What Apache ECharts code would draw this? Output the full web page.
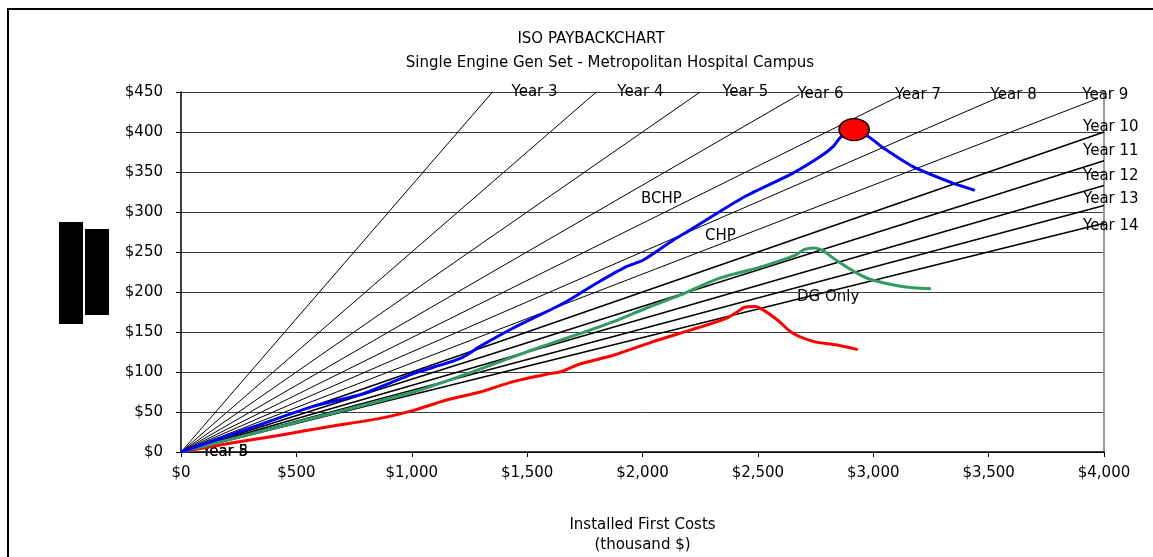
<!DOCTYPE html>
<html>
<head>
<meta charset="utf-8">
<title>ISO Payback Chart</title>
<script src="https://cdn.jsdelivr.net/npm/echarts@6/dist/echarts.min.js"></script>
<style>
  html, body { margin: 0; padding: 0; background: #fff; }
  #chart { width: 1153px; height: 557px; }
</style>
</head>
<body>
<div id="chart"></div>
<script>
// payback-year reference lines, each drawn from the origin to its end point
var yearNames = ['Year 3', 'Year 4', 'Year 5', 'Year 6', 'Year 7', 'Year 8', 'Year 9',
                 'Year 10', 'Year 11', 'Year 12', 'Year 13', 'Year 14'];
var yearLineEnds = [
  [1350, 450], [1800, 450], [2250, 450], [2680, 447], [3120, 446], [3565, 446], [3975, 442],
  [4000, 400], [4000, 364], [4000, 333], [4000, 308], [4000, 286]
];
// years whose label also sits at the origin
var originLabelYears = ['Year 5', 'Year 8'];

// installed first cost (thousand $) vs annual savings
var bchp = [
  [0, 0], [300, 30], [573, 57], [790, 73], [1007, 98], [1151, 111], [1224, 119], [1296, 132],
  [1440, 155], [1657, 186], [1801, 211], [1932, 232], [2004, 240], [2134, 265], [2204, 277],
  [2442, 319], [2648, 348], [2769, 369], [2827, 382], [2860, 394], [2917, 403], [2980, 394],
  [3044, 380], [3170, 357], [3345, 336], [3440, 327]
];
var bchpPeak = [[2917, 403]];
var chp = [
  [0, 0], [500, 37], [1007, 75], [1223, 96], [1440, 119], [1585, 134], [1729, 148], [1874, 163],
  [2018, 180], [2162, 196], [2331, 217], [2521, 232], [2663, 246], [2700, 253], [2743, 255],
  [2780, 252], [2838, 240], [2933, 223], [2996, 215], [3123, 207], [3250, 204]
];
var dgOnly = [
  [0, 0], [212, 11], [429, 21], [646, 32], [862, 42], [1007, 52], [1151, 65], [1296, 75],
  [1440, 88], [1600, 98], [1642, 100], [1729, 110], [1874, 121], [2046, 138], [2204, 152],
  [2363, 167], [2410, 175], [2442, 181], [2489, 182], [2521, 178], [2585, 165], [2648, 149],
  [2743, 138], [2838, 134], [2933, 128]
];

var xTickLabels = ['$0', '$500', '$1,000', '$1,500', '$2,000', '$2,500', '$3,000', '$3,500', '$4,000'];
var yTickLabels = ['$0', '$50', '$100', '$150', '$200', '$250', '$300', '$350', '$400', '$450'];

var FONT = '"DejaVu Sans", "Liberation Sans", Arial, sans-serif';

// where each year label sits relative to the end of its line
var yearLabelOffsets = [
  [19, 0], [21, 0], [22, 0], [-2, 0], [-6, 0], [-13, 0], [-16, -3],
  [-21, -5], [-21, -10], [-21, -9], [-21, -6], [-21, 3]
];

var series = [];

yearNames.forEach(function (name, i) {
  var start = { value: [0, 0] };
  if (originLabelYears.indexOf(name) >= 0) {
    start.label = {
      show: true,
      formatter: name,
      position: 'right',
      distance: 0,
      offset: [21, 0],
      color: '#000',
      fontSize: 15,
      fontFamily: FONT
    };
  }
  series.push({
    name: name,
    type: 'line',
    data: [start, yearLineEnds[i]],
    showSymbol: true,
    symbol: 'circle',
    symbolSize: 0,
    lineStyle: { color: '#000', width: i < 7 ? 1 : 1.6 },
    itemStyle: { color: '#000' },
    endLabel: {
      show: true,
      formatter: name,
      distance: 0,
      align: 'left',
      offset: yearLabelOffsets[i],
      color: '#000',
      fontSize: 15,
      fontFamily: FONT
    },
    emphasis: { disabled: true },
    silent: true,
    z: 2
  });
});

series.push({
  name: 'DG Only',
  type: 'line',
  data: dgOnly,
  smooth: 0.25,
  showSymbol: false,
  lineStyle: { color: '#ff0000', width: 3 },
  itemStyle: { color: '#ff0000' },
  z: 3
});
series.push({
  name: 'CHP',
  type: 'line',
  data: chp,
  smooth: 0.25,
  showSymbol: false,
  lineStyle: { color: '#339966', width: 3 },
  itemStyle: { color: '#339966' },
  z: 3
});
series.push({
  name: 'BCHP',
  type: 'line',
  data: bchp,
  smooth: 0.25,
  showSymbol: false,
  lineStyle: { color: '#0000ff', width: 3 },
  itemStyle: { color: '#0000ff' },
  z: 4
});
series.push({
  name: 'BCHP peak',
  type: 'scatter',
  data: bchpPeak,
  symbol: 'circle',
  symbolSize: [30, 22],
  itemStyle: { color: '#ff0000', opacity: 1, borderColor: '#000', borderWidth: 1.5 },
  emphasis: { disabled: true },
  z: 5
});

var chart = echarts.init(document.getElementById('chart'));

var option = {
  animation: false,
  backgroundColor: '#fff',
  textStyle: { fontFamily: FONT },
  title: [
    {
      text: 'ISO PAYBACKCHART',
      left: 586,
      top: 27,
      textAlign: 'center',
      textStyle: { fontSize: 15, fontWeight: 'normal', color: '#000', fontFamily: FONT }
    },
    {
      text: 'Single Engine Gen Set - Metropolitan Hospital Campus',
      left: 605,
      top: 51,
      textAlign: 'center',
      textStyle: { fontSize: 15, fontWeight: 'normal', color: '#000', fontFamily: FONT }
    }
  ],
  grid: { left: 181, right: 49, top: 92, bottom: 105, containLabel: false, outerBoundsMode: 'none' },
  xAxis: {
    type: 'value',
    min: 0,
    max: 4000,
    interval: 500,
    name: 'Installed First Costs\n(thousand $)',
    nameLocation: 'middle',
    nameGap: 63,
    nameTextStyle: { color: '#000', fontSize: 15, lineHeight: 20, fontFamily: FONT },
    axisLine: { show: true, lineStyle: { color: '#000', width: 1.5 } },
    axisTick: { show: true, inside: false, length: 5, lineStyle: { color: '#000' } },
    axisLabel: {
      color: '#000',
      fontSize: 15,
      margin: 14,
      fontFamily: FONT,
      formatter: function (v) { return xTickLabels[Math.round(v / 500)]; }
    },
    splitLine: { show: false }
  },
  yAxis: [
    {
      type: 'value',
      min: 0,
      max: 450,
      interval: 50,
      axisLine: { show: true, lineStyle: { color: '#000', width: 1.5 } },
      axisTick: { show: true, inside: false, length: 5, lineStyle: { color: '#000' } },
      axisLabel: {
        color: '#000',
        fontSize: 15,
        margin: 18,
        fontFamily: FONT,
        formatter: function (v) { return yTickLabels[Math.round(v / 50)]; }
      },
      splitLine: { show: true, lineStyle: { color: '#3a3a3a', width: 1 } }
    },
    {
      type: 'value',
      position: 'right',
      min: 0,
      max: 450,
      interval: 50,
      axisLine: { show: true, lineStyle: { color: '#999', width: 2 } },
      axisTick: { show: false },
      axisLabel: { show: false },
      splitLine: { show: false }
    }
  ],
  graphic: [
    // chart frame (left and top edges)
    {
      type: 'polyline',
      shape: { points: [[8, 557], [8, 9], [1153, 9]] },
      style: { stroke: '#000', lineWidth: 2, fill: null },
      silent: true
    },
    // blocked-out vertical axis title
    {
      type: 'rect',
      shape: { x: 59, y: 222, width: 24, height: 102 },
      style: { fill: '#000' },
      silent: true
    },
    {
      type: 'rect',
      shape: { x: 85, y: 229, width: 24, height: 86 },
      style: { fill: '#000' },
      silent: true
    },
    // curve names
    {
      type: 'text',
      left: 641,
      top: 192,
      style: { text: 'BCHP', fill: '#000', font: '15px ' + FONT }
    },
    {
      type: 'text',
      left: 705,
      top: 229,
      style: { text: 'CHP', fill: '#000', font: '15px ' + FONT }
    },
    {
      type: 'text',
      left: 797,
      top: 290,
      style: { text: 'DG Only', fill: '#000', font: '15px ' + FONT }
    }
  ],
  series: series
};

chart.setOption(option);
window.addEventListener('resize', chart.resize);
</script>
</body>
</html>
